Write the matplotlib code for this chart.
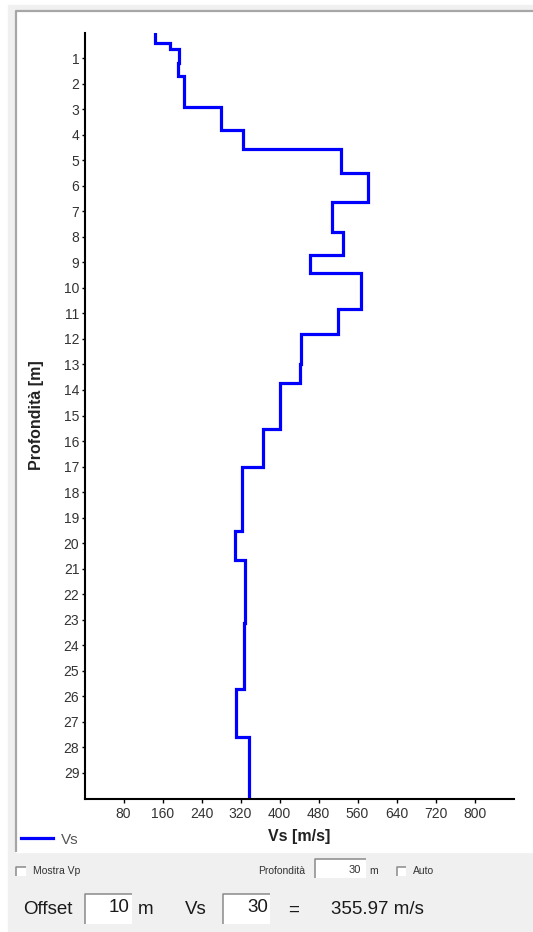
import numpy as np
import matplotlib
matplotlib.use('Agg')
import matplotlib.pyplot as plt
from matplotlib.patches import Rectangle

plt.rcParams['font.family'] = ['Liberation Sans', 'DejaVu Sans']

# Vs profile: layer tops [m] and Vs of each layer [m/s]
layer_top = [0.0, 0.41, 0.65, 1.19, 1.72, 2.93, 3.83, 4.55, 5.52, 6.62, 7.81, 8.73,
             9.42, 10.84, 11.80, 13.0, 13.72, 15.51, 17.03, 19.53, 20.64, 23.12, 25.73, 27.6]
vs_layer = [144, 175, 193, 191, 205, 280, 326, 526, 581, 507, 530, 462,
            567, 521, 445, 442, 400, 367, 323, 308, 330, 327, 311, 338]
max_depth = 30
depth_ticks = list(range(1, 30))
vs_ticks = [80, 160, 240, 320, 400, 480, 560, 640, 720, 800]
vs_max = 881

# values shown in the form below the chart
offset_m = 10
vs_depth = 30
prof_depth = 30
vs30 = 355.97

W, H = 533, 932
fig = plt.figure(figsize=(W / 100, H / 100), dpi=100)
fig.patch.set_facecolor('white')

# background layer drawn in pixel coordinates (y grows downward)
bg = fig.add_axes([0, 0, 1, 1], zorder=0)
bg.set_xlim(0, W)
bg.set_ylim(H, 0)
bg.axis('off')
bg.add_patch(Rectangle((8, 5), W - 8 + 2, H - 5 + 2, color='#f0f0f0'))
bg.add_patch(Rectangle((16, 11.5), W - 16 + 2, 840, color='white'))
bg.plot([15.5, 15.5, W + 2], [851.5, 11, 11], color='#a6a6a6', lw=1.6, solid_capstyle='butt')


def sunken(x0, y0, x1, y1, fill='white'):
    bg.add_patch(Rectangle((x0, y0), x1 - x0, y1 - y0, facecolor=fill, edgecolor='none'))
    bg.plot([x0, x0, x1], [y1, y0, y0], color='#8a8a8a', lw=1.1, solid_capstyle='butt')


# --- main chart ---
left, right, top, bottom = 84.5, 514, 32.5, 798.5
ax = fig.add_axes([left / W, 1 - bottom / H, (right - left) / W, (bottom - top) / H], zorder=1)
ax.patch.set_alpha(0)

edges = layer_top + [max_depth]
ys = np.repeat(edges, 2)[1:-1]
xs = np.repeat(vs_layer, 2)
line, = ax.plot(xs, ys, color='#0000ff', lw=2.3, label='Vs', solid_joinstyle='miter')

ax.set_xlim(0, vs_max)
ax.set_ylim(max_depth, 0)
ax.set_xticks(vs_ticks)
ax.set_yticks(depth_ticks)
for s in ['top', 'right']:
    ax.spines[s].set_visible(False)
for s in ['left', 'bottom']:
    ax.spines[s].set_linewidth(1.5)
    ax.spines[s].set_color('black')
ax.tick_params(axis='y', length=2.5, width=1.0, pad=1.2, labelsize=10, labelcolor='#333333')
ax.tick_params(axis='x', length=3, width=1.0, pad=3, labelsize=10, labelcolor='#333333')
ax.set_xlabel('Vs [m/s]', fontsize=11.5, fontweight='bold', color='#222222', labelpad=6)
ax.set_ylabel('Profondità [m]', fontsize=11.5, fontweight='bold', color='#222222', labelpad=14)

fig.legend(handles=[line], loc='center left', bbox_to_anchor=(21 / W, 1 - 839.5 / H),
           frameon=False, fontsize=11, handlelength=2.1, handletextpad=0.5,
           borderpad=0, borderaxespad=0, labelcolor='#555555')

# --- form controls below the chart ---
sunken(16, 866.5, 26, 876)
bg.text(33, 871, 'Mostra Vp', fontsize=7.5, color='#333333', va='center', ha='left')

bg.text(258, 871, 'Profondità', fontsize=7.5, color='#333333', va='center', ha='left')
sunken(315, 858.5, 366, 878)
bg.text(361, 870, str(prof_depth), fontsize=8, color='#333333', va='center', ha='right')
bg.text(369, 871, 'm', fontsize=7.5, color='#333333', va='center', ha='left')
sunken(397, 866.5, 406, 876)
bg.text(413, 871, 'Auto', fontsize=7.5, color='#333333', va='center', ha='left')

big = dict(fontsize=13.5, color='#1a1a1a', va='center')
bg.text(23, 910, 'Offset', ha='left', **big)
sunken(85, 893.5, 132, 924)
bg.text(130, 907.5, str(offset_m), ha='right', **big)
bg.text(138, 910, 'm', ha='left', **big)
bg.text(185, 910, 'Vs', ha='left', **big)
sunken(223, 893.5, 270, 924)
bg.text(268, 907.5, str(vs_depth), ha='right', **big)
bg.text(294, 910, '=', ha='center', **big)
bg.text(331, 910, f'{vs30:.2f} m/s', ha='left', **big)

fig.savefig('out.png', dpi=100)
